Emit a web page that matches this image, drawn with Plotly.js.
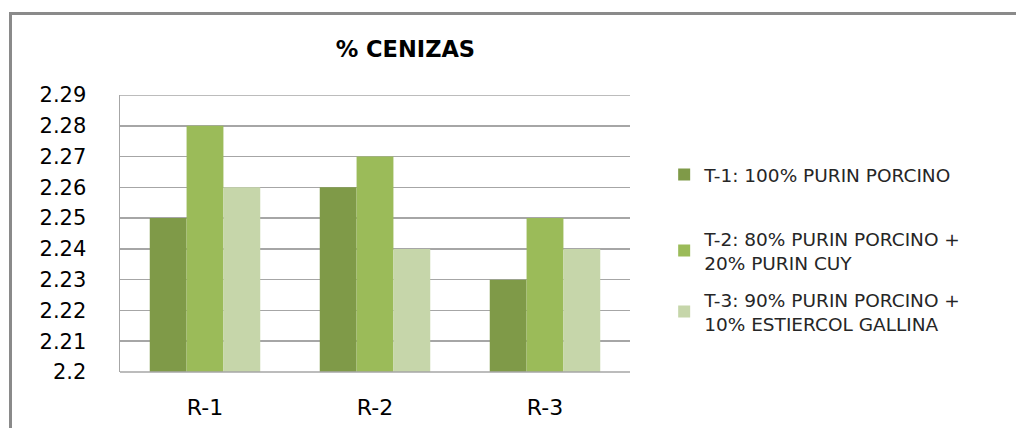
<!DOCTYPE html>
<html><head><meta charset="utf-8">
<script src="https://cdn.plot.ly/plotly-3.0.1.min.js"></script>
<style>
html,body{margin:0;padding:0;background:#fff;}
#frame{position:absolute;left:9px;top:12px;width:1020px;height:430px;border-left:3px solid #8a8a8a;border-top:3px solid #8a8a8a;}
#chart{position:absolute;left:0;top:0;width:1016px;height:428px;}
</style></head>
<body>
<div id="frame"></div>
<div id="chart"></div>
<script>
const categories = ["R-1", "R-2", "R-3"];
const seriesNames = ["T-1: 100% PURIN PORCINO", "T-2: 80% PURIN PORCINO +<br>20% PURIN CUY", "T-3: 90% PURIN PORCINO +<br>10% ESTIERCOL GALLINA"];
const t1 = [2.25, 2.26, 2.23];
const t2 = [2.28, 2.27, 2.25];
const t3 = [2.26, 2.24, 2.24];
const yTicks = [2.2, 2.21, 2.22, 2.23, 2.24, 2.25, 2.26, 2.27, 2.28, 2.29];
const yTickText = ["2.2", "2.21", "2.22", "2.23", "2.24", "2.25", "2.26", "2.27", "2.28", "2.29"];
const colors = ["#7f9a48", "#9bbb59", "#c6d6aa"];
const values = [t1, t2, t3];

const font = "DejaVu Sans, sans-serif";
const legendIds = ["legend", "legend2", "legend3"];
const traces = values.map((v, i) => ({
  type: "bar", x: categories, y: v, name: seriesNames[i],
  marker: {color: colors[i], line: {width: 0}},
  legend: legendIds[i], hoverinfo: "skip"
}));

const legFont = {family: font, size: 18.5, color: "#262626"};
const mkLegend = (y) => ({x: 1.067, xanchor: "left", y: y, yanchor: "middle",
  font: legFont, itemwidth: 30, bgcolor: "rgba(0,0,0,0)"});

const layout = {
  width: 1016, height: 428,
  paper_bgcolor: "rgba(0,0,0,0)", plot_bgcolor: "#fff",
  margin: {l: 120, r: 386, t: 95, b: 56},
  barmode: "group", bargap: 0.35, bargroupgap: 0,
  title: {text: "<b>% CENIZAS</b>", x: 0.399, xref: "container", y: 0.885, yref: "container",
          xanchor: "center", yanchor: "middle", font: {family: font, size: 22.5, color: "#000"}},
  xaxis: {type: "category", showgrid: false, showline: false, ticks: "",
          ticklabelstandoff: 20, tickfont: {family: font, size: 22, color: "#000"}},
  yaxis: {range: [2.2, 2.29], tickvals: yTicks, ticktext: yTickText, showgrid: true,
          gridcolor: "#a6a6a6", gridwidth: 1.5, showline: true, linecolor: "#a6a6a6", linewidth: 1.5,
          zeroline: false, ticks: "", ticklabelstandoff: 28,
          tickfont: {family: font, size: 21, color: "#000"}},
  legend: mkLegend(0.711),
  legend2: mkLegend(0.437),
  legend3: mkLegend(0.217),
  shapes: [
    {type: "line", xref: "paper", yref: "paper", x0: 0, x1: 1, y0: 0, y1: 0, line: {color: "#a6a6a6", width: 1.5}},
    {type: "line", xref: "paper", yref: "y", x0: 0, x1: 1, y0: yTicks[yTicks.length - 1], y1: yTicks[yTicks.length - 1], line: {color: "#a6a6a6", width: 1.5}}
  ],
  showlegend: true
};
Plotly.newPlot("chart", traces, layout, {displayModeBar: false, staticPlot: true});
</script>
</body></html>
